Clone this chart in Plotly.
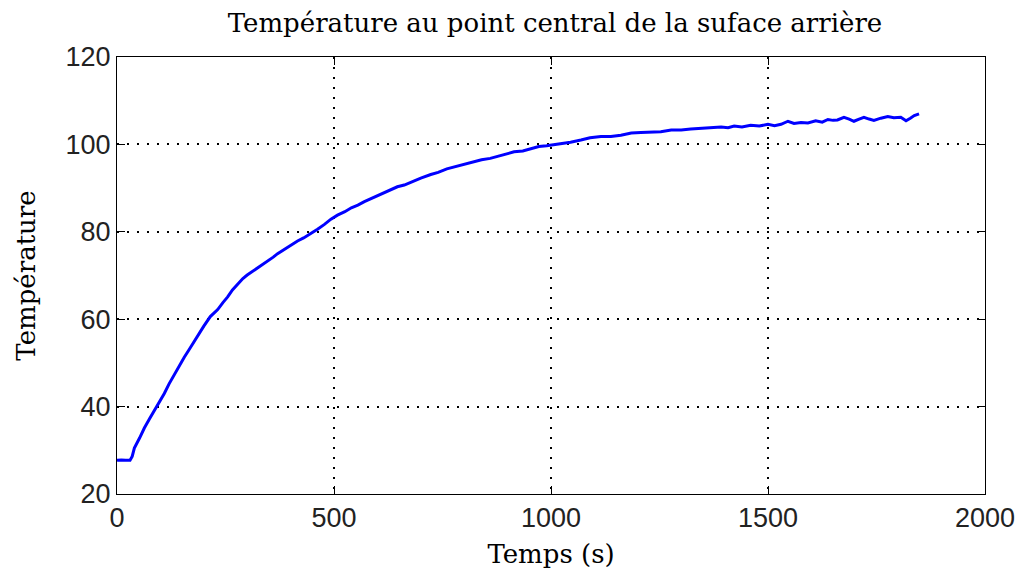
import plotly.graph_objects as go

# Time (s) and temperature values
temps_s = [0, 10, 20, 30, 35, 40, 52, 63, 75, 86, 98, 109, 120, 132, 143, 155, 166, 178,
           190, 200, 215, 232, 244, 255, 266, 278, 290, 300, 312, 325, 337, 350, 360, 370,
           382, 393, 405, 416, 430, 447, 462, 478, 493, 508, 525, 540, 555, 570, 585, 600,
           622, 646, 662, 680, 700, 723, 740, 760, 780, 800, 820, 840, 860, 877, 895, 915,
           935, 954, 972, 990, 1005, 1023, 1045, 1069, 1090, 1115, 1138, 1161, 1185, 1207,
           1230, 1253, 1277, 1300, 1322, 1346, 1370, 1392, 1408, 1422, 1440, 1460, 1480,
           1500, 1515, 1530, 1546, 1560, 1576, 1592, 1610, 1625, 1638, 1650, 1660, 1675,
           1687, 1698, 1710, 1721, 1733, 1744, 1760, 1776, 1790, 1806, 1812, 1818, 1828,
           1837, 1848]
temperature = [27.7, 27.8, 27.7, 27.7, 28.6, 30.5, 32.8, 35.1, 37.2, 39.0, 41.2, 43.0,
               45.2, 47.4, 49.2, 51.3, 53.0, 55.0, 56.9, 58.4, 60.6, 62.2, 63.8, 65.1,
               66.7, 68.1, 69.3, 70.1, 70.9, 71.8, 72.6, 73.6, 74.2, 75.0, 75.8, 76.5,
               77.3, 77.9, 78.6, 79.6, 80.6, 81.7, 82.9, 83.8, 84.6, 85.5, 86.1, 86.9,
               87.6, 88.2, 89.2, 90.3, 90.7, 91.5, 92.3, 93.1, 93.6, 94.4, 94.9, 95.4,
               95.9, 96.5, 96.8, 97.3, 97.8, 98.3, 98.5, 99.0, 99.5, 99.7, 99.9, 100.3,
               100.5, 101.0, 101.5, 101.8, 101.8, 102.1, 102.6, 102.7, 102.8, 102.9, 103.3,
               103.3, 103.5, 103.7, 103.9, 104.0, 103.8, 104.2, 104.0, 104.4, 104.2, 104.6,
               104.3, 104.6, 105.3, 104.8, 105.0, 104.9, 105.4, 105.1, 105.7, 105.5, 105.6,
               106.2, 105.8, 105.3, 105.8, 106.2, 105.8, 105.5, 106.0, 106.4, 106.1, 106.2,
               105.8, 105.4, 106.0, 106.6, 107.0]

x_ticks = [0, 500, 1000, 1500, 2000]
y_ticks = [20, 40, 60, 80, 100, 120]

fig = go.Figure()
fig.add_trace(go.Scatter(
    x=temps_s, y=temperature, mode="lines",
    line=dict(color="#0000FF", width=3),
    showlegend=False,
))

axis_common = dict(
    showline=True, linecolor="black", linewidth=1, mirror="allticks",
    ticks="inside", ticklen=8, tickwidth=1, tickcolor="black",
    showgrid=True, gridcolor="black", gridwidth=1.5, griddash="2px,8px",
    zeroline=False,
    tickfont=dict(family="Liberation Sans", size=27, color="#222222"),
    automargin=False,
)

fig.update_xaxes(range=[0, 2000], tickvals=x_ticks, ticktext=[str(v) for v in x_ticks],
                 title=dict(text="Temps (s)", font=dict(family="DejaVu Serif", size=26, color="black"),
                            standoff=12),
                 **axis_common)
fig.update_yaxes(range=[20, 120], tickvals=y_ticks, ticktext=[str(v) for v in y_ticks],
                 title=dict(text="Température", font=dict(family="DejaVu Serif", size=26, color="black"),
                            standoff=22),
                 **axis_common)

fig.update_layout(
    width=1025, height=581,
    margin=dict(l=109, r=48, t=49, b=95),
    paper_bgcolor="white", plot_bgcolor="white",
    title=dict(text="Température au point central de la suface arrière",
               font=dict(family="DejaVu Serif", size=26, color="black"),
               x=547 / 1025, xanchor="center", y=1 - 15 / 581, yanchor="middle"),
)

fig.write_html("out.html")
